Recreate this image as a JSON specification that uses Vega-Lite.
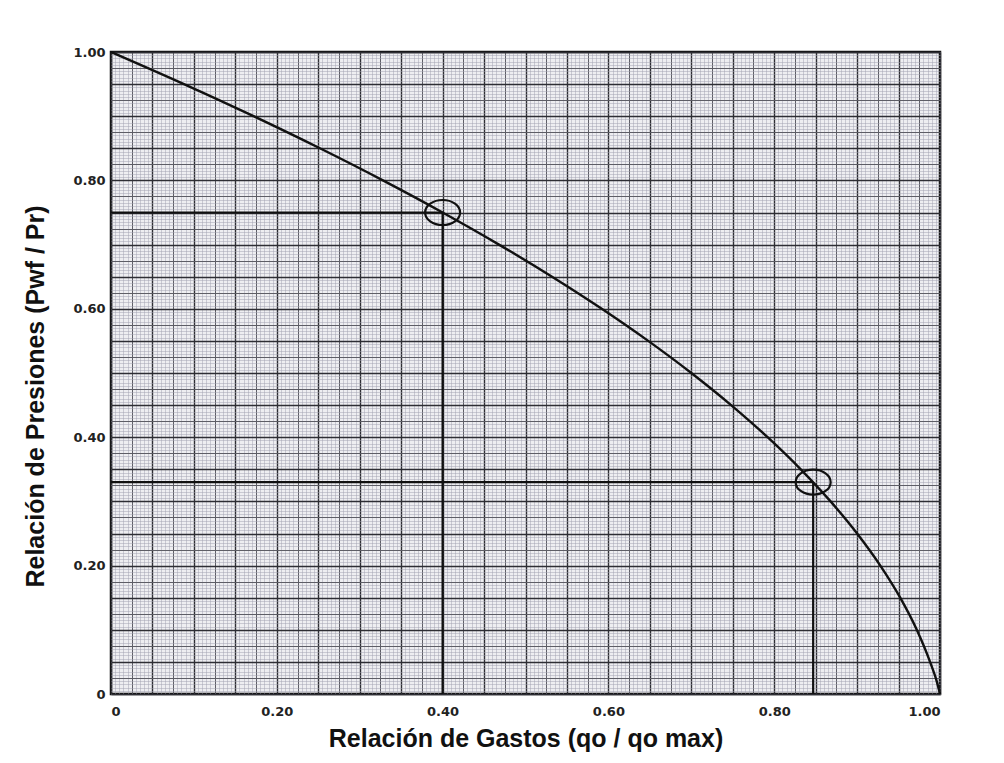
{
  "$schema": "https://vega.github.io/schema/vega-lite/v6.json",
  "width": 829,
  "height": 642,
  "autosize": {"type": "none"},
  "padding": {"left": 111, "top": 52, "right": 64, "bottom": 69},
  "background": "white",
  "config": {
    "view": {"fill": "#eeeef1", "stroke": "#111111", "strokeWidth": 2.5}
  },
  "datasets": {
    "curve": [
      {"q": 0.000, "p": 1.00},
      {"q": 0.088, "p": 0.95},
      {"q": 0.172, "p": 0.90},
      {"q": 0.252, "p": 0.85},
      {"q": 0.328, "p": 0.80},
      {"q": 0.400, "p": 0.75},
      {"q": 0.468, "p": 0.70},
      {"q": 0.532, "p": 0.65},
      {"q": 0.592, "p": 0.60},
      {"q": 0.648, "p": 0.55},
      {"q": 0.700, "p": 0.50},
      {"q": 0.748, "p": 0.45},
      {"q": 0.792, "p": 0.40},
      {"q": 0.832, "p": 0.35},
      {"q": 0.868, "p": 0.30},
      {"q": 0.900, "p": 0.25},
      {"q": 0.928, "p": 0.20},
      {"q": 0.952, "p": 0.15},
      {"q": 0.972, "p": 0.10},
      {"q": 0.988, "p": 0.05},
      {"q": 0.996, "p": 0.02},
      {"q": 1.000, "p": 0.00}
    ],
    "hlines": [
      {"q": 0, "q2": 0.40, "p": 0.75},
      {"q": 0, "q2": 0.847, "p": 0.33}
    ],
    "vlines": [
      {"q": 0.40, "p": 0, "p2": 0.75},
      {"q": 0.847, "p": 0, "p2": 0.33}
    ],
    "points": [
      {"q": 0.40, "p": 0.75},
      {"q": 0.847, "p": 0.33}
    ]
  },
  "layer": [
    {
      "data": {"name": "hlines"},
      "mark": {"type": "rule", "color": "#111111", "strokeWidth": 2.2},
      "encoding": {
        "x": {"field": "q", "type": "quantitative", "scale": {"domain": [0, 1], "nice": false},
          "axis": {"orient": "bottom", "title": null, "labels": false, "ticks": false, "domain": false, "grid": true, "tickCount": 200, "gridColor": "#a4a4b2", "gridWidth": 0.7, "gridOpacity": 0.7}},
        "x2": {"field": "q2"},
        "y": {"field": "p", "type": "quantitative", "scale": {"domain": [0, 1], "nice": false},
          "axis": {"orient": "left", "title": null, "labels": false, "ticks": false, "domain": false, "grid": true, "tickCount": 200, "gridColor": "#a4a4b2", "gridWidth": 0.7, "gridOpacity": 0.7}}
      }
    },
    {
      "data": {"name": "vlines"},
      "mark": {"type": "rule", "color": "#111111", "strokeWidth": 2.2},
      "encoding": {
        "x": {"field": "q", "type": "quantitative",
          "axis": {"orient": "bottom", "title": null, "labels": false, "ticks": false, "domain": false, "grid": true,
            "values": [0,0.025,0.05,0.075,0.1,0.125,0.15,0.175,0.2,0.225,0.25,0.275,0.3,0.325,0.35,0.375,0.4,0.425,0.45,0.475,0.5,0.525,0.55,0.575,0.6,0.625,0.65,0.675,0.7,0.725,0.75,0.775,0.8,0.825,0.85,0.875,0.9,0.925,0.95,0.975,1],
            "gridColor": "#5e5e66", "gridWidth": 1}},
        "y": {"field": "p", "type": "quantitative",
          "axis": {"orient": "left", "title": null, "labels": false, "ticks": false, "domain": false, "grid": true,
            "values": [0,0.025,0.05,0.075,0.1,0.125,0.15,0.175,0.2,0.225,0.25,0.275,0.3,0.325,0.35,0.375,0.4,0.425,0.45,0.475,0.5,0.525,0.55,0.575,0.6,0.625,0.65,0.675,0.7,0.725,0.75,0.775,0.8,0.825,0.85,0.875,0.9,0.925,0.95,0.975,1],
            "gridColor": "#5e5e66", "gridWidth": 1}},
        "y2": {"field": "p2"}
      }
    },
    {
      "data": {"name": "curve"},
      "mark": {"type": "line", "color": "#111111", "strokeWidth": 2.4, "interpolate": "monotone"},
      "encoding": {
        "x": {"field": "q", "type": "quantitative",
          "axis": {"orient": "bottom", "title": null, "labels": false, "ticks": false, "domain": false, "grid": true, "tickCount": 20, "gridColor": "#2e2e34", "gridWidth": 1.4}},
        "y": {"field": "p", "type": "quantitative",
          "axis": {"orient": "left", "title": null, "labels": false, "ticks": false, "domain": false, "grid": true, "tickCount": 20, "gridColor": "#2e2e34", "gridWidth": 1.4}}
      }
    },
    {
      "data": {"name": "points"},
      "mark": {"type": "point", "shape": "M-1.4,0 A1.4,1 0 1,0 1.4,0 A1.4,1 0 1,0 -1.4,0 Z", "size": 625, "filled": false, "stroke": "#111111", "strokeWidth": 2.2, "opacity": 1},
      "encoding": {
        "x": {"field": "q", "type": "quantitative",
          "axis": {"orient": "bottom", "title": "Relación de Gastos (qo / qo max)", "grid": false, "ticks": false, "domain": false,
            "values": [0, 0.2, 0.4, 0.6, 0.8, 1],
            "labelExpr": "datum.value == 0 ? '0' : format(datum.value, '.2f')",
            "labelFont": "DejaVu Sans", "labelFontWeight": "bold", "labelFontSize": 13, "labelColor": "#222222", "labelPadding": 11,
            "titleFont": "Liberation Sans", "titleFontWeight": "bold", "titleFontSize": 25, "titleColor": "#111111", "titlePadding": 8}},
        "y": {"field": "p", "type": "quantitative",
          "axis": {"orient": "left", "title": "Relación de Presiones (Pwf / Pr)", "grid": false, "ticks": false, "domain": false,
            "values": [0, 0.2, 0.4, 0.6, 0.8, 1],
            "labelExpr": "datum.value == 0 ? '0' : format(datum.value, '.2f')",
            "labelFont": "DejaVu Sans", "labelFontWeight": "bold", "labelFontSize": 13, "labelColor": "#222222", "labelPadding": 6,
            "titleFont": "Liberation Sans", "titleFontWeight": "bold", "titleFontSize": 25, "titleColor": "#111111", "titlePadding": 24, "titleY": 344}}
      }
    }
  ],
  "resolve": {"axis": {"x": "independent", "y": "independent"}}
}
